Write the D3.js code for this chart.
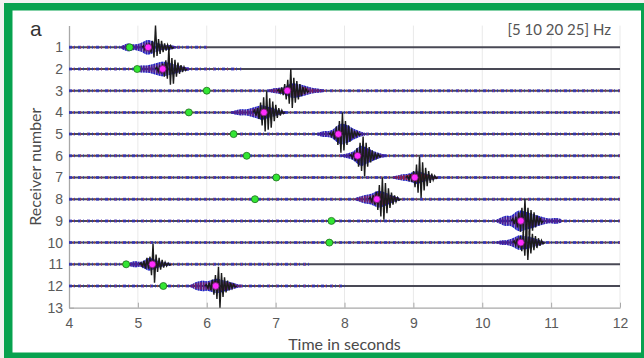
<!DOCTYPE html>
<html>
<head>
<meta charset="utf-8">
<script src="https://cdn.jsdelivr.net/npm/d3@7"></script>
<style>
  html, body { margin: 0; padding: 0; background: #f1f2f1; }
  svg { display: block; }
</style>
</head>
<body>
<div id="chart-container"></div>
<script>
// receivers and picked times (seconds)
const receivers = [1, 2, 3, 4, 5, 6, 7, 8, 9, 10, 11, 12];
const yTicks = [1, 2, 3, 4, 5, 6, 7, 8, 9, 10, 11, 12, 13];
const xTicks = [4, 5, 6, 7, 8, 9, 10, 11, 12];
const onsetTimes = [4.88, 4.99, 6.0, 5.74, 6.39, 6.58, 7.01, 6.70, 7.81, 7.78, 4.83, 5.37];   // green
const pickTimes  = [5.15, 5.36, 7.17, 6.83, 7.91, 8.19, 9.02, 8.47, 10.56, 10.56, 5.21, 6.13]; // magenta

// black wavelet: first sample time, sample step, signed amplitudes (receiver units, + = up)
const waveDt = 0.022;
const waveStart = [5.08, 5.274, 7.044, 6.694, 7.794, 8.094, 8.914, 8.374, 10.444, 10.464, 5.044, 5.994];
const waveAmps = [
  [0.06,-0.1,0.12,-0.1,0.18,-0.25,0.3,-0.47,1.0,-0.4,0.38,-0.3,0.3,-0.22,0.18,-0.15,0.12,-0.1,0.08,-0.06],
  [0.08,-0.12,0.15,-0.2,0.25,-0.35,0.4,-0.45,0.98,-0.72,0.5,-0.68,0.42,-0.35,0.3,-0.22,0.18,-0.14,0.1,-0.07],
  [0.05,-0.1,0.15,-0.2,0.3,-0.4,0.5,-0.6,1.0,-0.8,0.6,-0.55,0.45,-0.4,0.3,-0.25,0.18,-0.14,0.1,-0.07],
  [0.1,-0.15,0.2,-0.3,0.45,-0.6,0.7,-0.88,0.97,-0.8,0.65,-0.7,0.5,-0.4,0.35,-0.25,0.2,-0.15,0.1,-0.06],
  [0.05,-0.1,0.15,-0.25,0.35,-0.5,0.6,-0.86,0.98,-0.75,0.6,-0.5,0.4,-0.35,0.25,-0.2,0.15,-0.1,0.08,-0.05],
  [0.05,-0.1,0.15,-0.25,0.35,-0.5,0.6,-0.7,0.89,-0.95,0.6,-0.5,0.4,-0.3,0.25,-0.2,0.15,-0.1,0.08,-0.05],
  [0.06,-0.1,0.15,-0.2,0.3,-0.45,0.6,-0.7,0.97,-0.94,0.7,-0.6,0.45,-0.4,0.3,-0.25,0.18,-0.12,0.08,-0.05],
  [0.08,-0.12,0.18,-0.25,0.35,-0.5,0.65,-0.8,0.98,-0.95,0.75,-0.65,0.5,-0.4,0.3,-0.25,0.18,-0.12,0.08,-0.05],
  [0.1,-0.15,0.2,-0.3,0.4,-0.5,0.6,-0.55,1.0,-0.69,0.6,-0.65,0.5,-0.45,0.4,-0.3,0.25,-0.2,0.15,-0.1],
  [0.08,-0.12,0.18,-0.25,0.3,-0.4,0.5,-0.6,0.82,-0.8,0.55,-0.5,0.4,-0.35,0.3,-0.25,0.2,-0.15,0.1,-0.06],
  [0.06,-0.1,0.15,-0.2,0.3,-0.2,0.35,-0.5,0.94,-0.85,0.45,-0.35,0.3,-0.25,0.2,-0.15,0.1,-0.08,0.06,-0.04],
  [0.06,-0.1,0.15,-0.2,0.3,-0.4,0.5,-0.6,0.89,-1.0,0.6,-0.5,0.4,-0.3,0.25,-0.2,0.15,-0.1,0.08,-0.05]
];

// coloured (filtered) traces: envelope of the blue/red energy around each arrival
const envDt = 0.05;
const envStart = [4.75, 4.95, 6.9, 6.35, 7.6, 7.95, 8.7, 8.15, 10.2, 10.2, 4.85, 5.75];
const envAmps = [
  [0.05,0.12,0.2,0.15,0.12,0.15,0.2,0.3,0.35,0.3,0.22,0.18,0.12,0.1,0.12,0.08,0.05],
  [0.05,0.12,0.18,0.15,0.18,0.2,0.25,0.3,0.35,0.32,0.28,0.25,0.2,0.15,0.1,0.08,0.05],
  [0.04,0.1,0.12,0.15,0.12,0.2,0.3,0.35,0.32,0.28,0.25,0.2,0.15,0.12,0.1,0.08,0.05],
  [0.04,0.08,0.12,0.15,0.12,0.15,0.2,0.25,0.3,0.35,0.3,0.25,0.2,0.15,0.1,0.08,0.05],
  [0.04,0.1,0.15,0.12,0.15,0.25,0.4,0.5,0.45,0.4,0.3,0.22,0.15,0.1,0.06],
  [0.04,0.08,0.12,0.15,0.25,0.4,0.5,0.4,0.32,0.25,0.18,0.12,0.08,0.05],
  [0.04,0.08,0.12,0.15,0.15,0.2,0.25,0.3,0.25,0.2,0.15,0.12,0.08,0.05],
  [0.04,0.1,0.15,0.2,0.22,0.25,0.35,0.4,0.35,0.3,0.22,0.15,0.1,0.06],
  [0.05,0.12,0.2,0.25,0.2,0.3,0.45,0.5,0.45,0.4,0.35,0.3,0.25,0.2,0.15,0.12,0.1,0.15,0.12,0.08],
  [0.04,0.08,0.12,0.1,0.15,0.2,0.3,0.35,0.3,0.3,0.25,0.2,0.15,0.1,0.06],
  [0.05,0.1,0.15,0.12,0.1,0.2,0.3,0.28,0.2,0.15,0.1,0.08,0.05],
  [0.04,0.1,0.2,0.22,0.25,0.2,0.25,0.3,0.35,0.3,0.25,0.22,0.18,0.12,0.08,0.05]
];
const redTint = [0.4, 0.45, 0.7, 0.5, 0.35, 0.35, 1.0, 0.7, 0.4, 0.4, 0.4, 0.65];
// time up to which the background noise is visibly coloured
const noiseEnd = [6.0, 6.5, 12, 12, 12, 12, 12, 12, 12, 12, 7.5, 8.0];

const W = 644, H = 358;
const svg = d3.select("#chart-container").append("svg")
  .attr("width", W).attr("height", H);

const defs = svg.append("defs");
defs.append("filter").attr("id", "soft")
  .append("feGaussianBlur").attr("stdDeviation", 0.45);
// scribble look for the filtered traces
const hatch = (id, color, w) => {
  const p = defs.append("pattern").attr("id", id).attr("patternUnits", "userSpaceOnUse")
    .attr("width", 2.6).attr("height", 5);
  p.append("rect").attr("x", 0).attr("y", 0).attr("width", w).attr("height", 5).attr("fill", color);
};
hatch("blueHatch", "#1e1ec8", 1.7);
hatch("redHatch", "#b01e28", 1.4);

// frame
svg.append("rect").attr("x", 4).attr("y", 3).attr("width", W).attr("height", H)
  .attr("fill", "#07a24f");
svg.append("rect").attr("x", 12.5).attr("y", 10.5).attr("width", 628.5).attr("height", 342)
  .attr("fill", "#ffffff");

const x = d3.scaleLinear().domain([4, 12]).range([69, 620]);
const y = d3.scaleLinear().domain([0, 13]).range([25.6, 307.7]);

// vertical grid
svg.append("g").selectAll("line").data(xTicks.slice(1))
  .join("line")
  .attr("x1", d => x(d)).attr("x2", d => x(d))
  .attr("y1", y(0)).attr("y2", y(13))
  .attr("stroke", "#e9e9e9").attr("stroke-width", 1);

const tickFont = "'Liberation Sans', Arial, sans-serif";
const xAxis = svg.append("g").attr("transform", `translate(0,${y(13)})`)
  .call(d3.axisBottom(x).tickValues(xTicks).tickSizeInner(-5).tickSizeOuter(0).tickPadding(10));
const yAxis = svg.append("g").attr("transform", `translate(${x(4)},0)`)
  .call(d3.axisLeft(y).tickValues(yTicks).tickSizeInner(-5).tickSizeOuter(0).tickPadding(6));
[xAxis, yAxis].forEach(a => {
  a.select(".domain").attr("stroke", "#a8a8a8").attr("stroke-width", 1.3);
  a.selectAll(".tick line").attr("stroke", "#a8a8a8");
  a.selectAll("text").attr("fill", "#5a5a5a").style("font-family", tickFont).style("font-size", "14px");
});

// traces
const traces = svg.append("g").attr("filter", "url(#soft)");
const line = d3.line().x(d => x(d[0])).y(d => y(d[1]));
const area = d3.area().curve(d3.curveBasis)
  .x(d => x(d[0])).y0(d => y(d[1] + d[2])).y1(d => y(d[1] - d[2]));
const redArea = d3.area().curve(d3.curveBasis)
  .x(d => x(d[0])).y0(d => y(d[1] + d[2] * 0.75)).y1(d => y(d[1] - d[2] * 0.75));

receivers.forEach((r, i) => {
  const g = traces.append("g");
  g.append("line")
    .attr("x1", x(4)).attr("x2", x(12)).attr("y1", y(r)).attr("y2", y(r))
    .attr("stroke", "#4a4a55").attr("stroke-width", 2);
  g.append("line")
    .attr("x1", x(4)).attr("x2", x(noiseEnd[i])).attr("y1", y(r)).attr("y2", y(r))
    .attr("stroke", "#2f2fc4").attr("stroke-width", 3).attr("opacity", 0.75)
    .attr("stroke-dasharray", "3,2,1,3");
  g.append("line")
    .attr("x1", x(4)).attr("x2", x(noiseEnd[i])).attr("y1", y(r)).attr("y2", y(r))
    .attr("stroke", "#c23a3a").attr("stroke-width", 2.4).attr("opacity", 0.65)
    .attr("stroke-dasharray", "1,6").attr("stroke-dashoffset", 3);

  const env = envAmps[i].map((a, k) => [envStart[i] + k * envDt, r, a]);
  g.append("path").attr("d", area(env))
    .attr("fill", "#22229a").attr("opacity", 0.45);
  g.append("path").attr("d", area(env))
    .attr("fill", "url(#blueHatch)");
  g.append("path").attr("d", redArea(env))
    .attr("fill", "url(#redHatch)").attr("opacity", redTint[i]);

  const wave = [[waveStart[i] - waveDt, r]]
    .concat(waveAmps[i].map((a, k) => [waveStart[i] + k * waveDt, r - a]))
    .concat([[waveStart[i] + waveAmps[i].length * waveDt, r]]);
  g.append("path").attr("d", line(wave))
    .attr("fill", "none").attr("stroke", "#1a1a1a").attr("stroke-width", 1.4)
    .attr("stroke-linejoin", "miter");
});

// picks
svg.append("g").selectAll("circle").data(receivers)
  .join("circle")
  .attr("cx", (r, i) => x(onsetTimes[i])).attr("cy", r => y(r)).attr("r", 3.5)
  .attr("fill", "#33e633").attr("stroke", "#1d6e1d").attr("stroke-width", 0.8);
svg.append("g").selectAll("circle").data(receivers)
  .join("circle")
  .attr("cx", (r, i) => x(pickTimes[i])).attr("cy", r => y(r)).attr("r", 3.4)
  .attr("fill", "#ff2cff").attr("stroke", "#6e1f6e").attr("stroke-width", 0.8);

// labels
const titleFont = "Lato, 'Open Sans', sans-serif";
svg.append("text").attr("x", x(8)).attr("y", 350).attr("text-anchor", "middle")
  .style("font-family", titleFont).style("font-size", "16px").attr("fill", "#4a4a4a")
  .text("Time in seconds");
svg.append("text").attr("transform", `translate(41,${y(6.5)}) rotate(-90)`)
  .attr("text-anchor", "middle")
  .style("font-family", titleFont).style("font-size", "16px").attr("fill", "#4a4a4a")
  .text("Receiver number");
svg.append("text").attr("x", 611).attr("y", 35).attr("text-anchor", "end")
  .style("font-family", titleFont).style("font-size", "15px").attr("fill", "#555")
  .text("[5 10 20 25] Hz");
svg.append("text").attr("x", 30).attr("y", 36)
  .style("font-family", tickFont).style("font-size", "21px").attr("fill", "#333")
  .text("a");
</script>
</body>
</html>
